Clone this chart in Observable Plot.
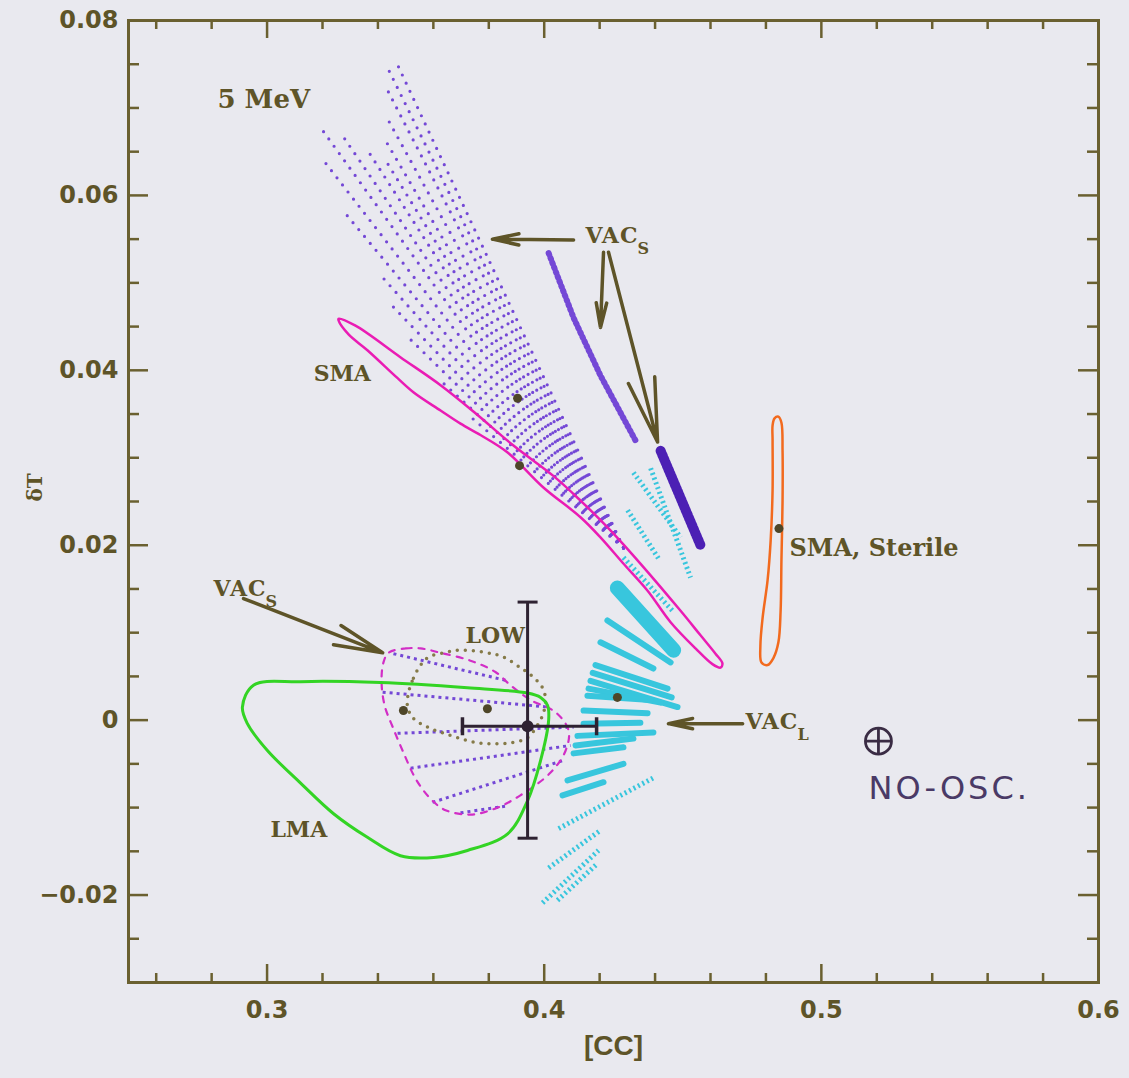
<!DOCTYPE html>
<html>
<head>
<meta charset="utf-8">
<script src="https://cdn.jsdelivr.net/npm/d3@7"></script>
<script src="https://cdn.jsdelivr.net/npm/@observablehq/plot@0.6"></script>
<style>
  html, body { margin: 0; padding: 0; background: #e9e9ef; }
  #chart svg { display: block; }
  .vac text { letter-spacing: 1px; }
  .hand text { letter-spacing: 3px; }
</style>
</head>
<body>
<div id="chart"></div>
<script>
// ---- axis ticks ([CC] horizontally, δT vertically) ----
const xLabelTicks = [0.3, 0.4, 0.5, 0.6];
const xMajorTicks = [0.3, 0.4, 0.5];
const xMinorTicks = [0.26, 0.28, 0.32, 0.34, 0.36, 0.38, 0.42, 0.44, 0.46, 0.48, 0.52, 0.54, 0.56, 0.58];
const yLabelTicks = [-0.02, 0, 0.02, 0.04, 0.06, 0.08];
const yMajorTicks = [-0.02, 0, 0.02, 0.04, 0.06];
const yMinorTicks = [-0.025, -0.015, -0.01, -0.005, 0.005, 0.01, 0.015, 0.025, 0.03, 0.035,
                     0.045, 0.05, 0.055, 0.065, 0.07, 0.075];

// ---- VAC_S grid (upper): rays of points converging on one corner ----
const vacSApex = [0.4286, 0.0197];
const vacSRayEnds = [
  [0.3741, 0.0345], [0.3623, 0.0389], [0.3515, 0.0436], [0.3454, 0.0473],
  [0.3412, 0.0508], [0.3273, 0.0583], [0.3194, 0.0644], [0.3199, 0.0675],
  [0.3271, 0.0669], [0.3370, 0.0648], [0.3428, 0.0640], [0.3427, 0.0663],
  [0.3427, 0.0692], [0.3427, 0.0725], [0.3427, 0.0751], [0.3461, 0.0756]
];
// two narrow VAC_S streaks to the right of the grid
const vacSStreakA = [[0.4016, 0.0534], [0.4106, 0.0460], [0.4203, 0.0394], [0.4329, 0.0320]];
const vacSStreakB = [[0.4420, 0.0308], [0.4564, 0.0200]];

// ---- VAC_L bands: [cc1, dT1, cc2, dT2] ----
const vacLWide = [[0.4264, 0.0151, 0.4467, 0.0080]];
const vacLSolid = [
  [0.4228, 0.0114, 0.4456, 0.0066],
  [0.4203, 0.0089, 0.4394, 0.0059],
  [0.4185, 0.0063, 0.4445, 0.0036],
  [0.4175, 0.0054, 0.4460, 0.0026],
  [0.4167, 0.0045, 0.4481, 0.0015],
  [0.4160, 0.0036, 0.4420, 0.0020],
  [0.4156, 0.0028, 0.4384, 0.0023],
  [0.4142, 0.0011, 0.4373, 0.0008],
  [0.4142, -0.0004, 0.4347, -0.0003],
  [0.4120, -0.0018, 0.4394, -0.0014],
  [0.4113, -0.0029, 0.4322, -0.0021],
  [0.4106, -0.0038, 0.4286, -0.0031],
  [0.4084, -0.0069, 0.4286, -0.0050],
  [0.4066, -0.0086, 0.4214, -0.0071]
];
const vacLDotted = [
  [0.4322, 0.0283, 0.4492, 0.0209],
  [0.4384, 0.0288, 0.4528, 0.0163],
  [0.4301, 0.0240, 0.4412, 0.0185],
  [0.4286, 0.0186, 0.4463, 0.0125],
  [0.4052, -0.0124, 0.4394, -0.0066],
  [0.4016, -0.0169, 0.4203, -0.0126],
  [0.3994, -0.0209, 0.4196, -0.0149],
  [0.4048, -0.0206, 0.4192, -0.0164]
];

// ---- closed contours ----
const smaContour = [
  [0.3258, 0.0459], [0.3319, 0.0451], [0.3481, 0.0415], [0.3626, 0.0383], [0.3752, 0.0351],
  [0.3889, 0.0314], [0.4034, 0.0279], [0.4131, 0.0251], [0.4239, 0.0217], [0.4347, 0.0179],
  [0.4492, 0.0125], [0.4564, 0.0097], [0.4618, 0.0076], [0.4643, 0.0065], [0.4636, 0.0060],
  [0.4607, 0.0064], [0.4546, 0.0082], [0.4456, 0.0112], [0.4373, 0.0148], [0.4283, 0.0180],
  [0.4203, 0.0209], [0.4131, 0.0232], [0.3997, 0.0266], [0.3868, 0.0306], [0.3770, 0.0326],
  [0.3698, 0.0339], [0.3626, 0.0354], [0.3528, 0.0375], [0.3471, 0.0391], [0.3362, 0.0423],
  [0.3294, 0.0441], [0.3258, 0.0457]
];
const lmaContour = [
  [0.2911, 0.0015], [0.2951, 0.0040], [0.3121, 0.0044], [0.3409, 0.0043], [0.3723, 0.0037],
  [0.3940, 0.0031], [0.3987, 0.0026], [0.4012, 0.0017], [0.4016, 0.0000], [0.3987, -0.0046],
  [0.3940, -0.0092], [0.3868, -0.0130], [0.3723, -0.0149], [0.3601, -0.0157], [0.3481, -0.0155],
  [0.3362, -0.0134], [0.3240, -0.0107], [0.3121, -0.0072], [0.3002, -0.0035], [0.2929, -0.0004]
];
const sterileContour = [
  [0.4831, 0.0345], [0.4845, 0.0347], [0.4856, 0.0340], [0.4860, 0.0308], [0.4860, 0.0251],
  [0.4856, 0.0183], [0.4853, 0.0125], [0.4845, 0.0089], [0.4827, 0.0071], [0.4806, 0.0063],
  [0.4784, 0.0066], [0.4780, 0.0085], [0.4788, 0.0117], [0.4806, 0.0160], [0.4817, 0.0205],
  [0.4824, 0.0263], [0.4824, 0.0320], [0.4824, 0.0337]
];
const lowContour = [
  [0.3510, 0.0031], [0.3528, 0.0048], [0.3554, 0.0063], [0.3582, 0.0072], [0.3637, 0.0077],
  [0.3698, 0.0080], [0.3795, 0.0077], [0.3853, 0.0072], [0.3914, 0.0060], [0.3961, 0.0049],
  [0.3994, 0.0037], [0.4005, 0.0023], [0.3997, 0.0008], [0.3979, -0.0004], [0.3940, -0.0020],
  [0.3878, -0.0026], [0.3817, -0.0027], [0.3759, -0.0026], [0.3698, -0.0021], [0.3637, -0.0015],
  [0.3579, -0.0008], [0.3528, 0.0002], [0.3507, 0.0015]
];
// VAC_S (lower) region: dashed outline and its inner lines
const vacSLowOutline = [
  [0.3438, 0.0077], [0.3500, 0.0082], [0.3554, 0.0082], [0.3626, 0.0077], [0.3734, 0.0068],
  [0.3824, 0.0055], [0.3878, 0.0040], [0.3951, 0.0023], [0.4041, 0.0009], [0.4088, -0.0012],
  [0.4077, -0.0035], [0.4023, -0.0060], [0.3914, -0.0086], [0.3824, -0.0101], [0.3734, -0.0108],
  [0.3644, -0.0103], [0.3590, -0.0090], [0.3536, -0.0067], [0.3492, -0.0037], [0.3456, -0.0010],
  [0.3424, 0.0017], [0.3413, 0.0045], [0.3420, 0.0066]
];
const vacSLowLines = [
  [0.3456, 0.0076, 0.3868, 0.0045],
  [0.3417, 0.0032, 0.4012, 0.0015],
  [0.3471, -0.0015, 0.4106, -0.0008],
  [0.3518, -0.0055, 0.4095, -0.0029],
  [0.3597, -0.0094, 0.4070, -0.0046],
  [0.3698, -0.0106, 0.3868, -0.0098]
];

// ---- best-fit points, measurement and no-oscillation point ----
const bestFits = [
  {cc: 0.3904, dT: 0.0368},   // VAC_S
  {cc: 0.3911, dT: 0.0291},   // SMA
  {cc: 0.4847, dT: 0.0219},   // SMA, sterile
  {cc: 0.4264, dT: 0.0026},   // VAC_L
  {cc: 0.3795, dT: 0.0013},   // LOW
  {cc: 0.3492, dT: 0.0011}    // VAC_S (lower)
];
const measurement = [{cc: 0.394, dT: -0.0007, ccLo: 0.3705, ccHi: 0.4189, dTLo: -0.0135, dTHi: 0.0135}];
const noOsc = [{cc: 0.5206, dT: -0.0024}];

// ---- annotation arrows: [cc1, dT1, cc2, dT2] (tail -> head) ----
const arrows = [
  [0.4106, 0.0549, 0.3813, 0.0550],
  [0.4214, 0.0535, 0.4203, 0.0449],
  [0.4232, 0.0535, 0.4409, 0.0318],
  [0.2915, 0.0139, 0.3417, 0.0077],
  [0.4716, -0.0004, 0.4448, -0.0004]
];

// ---- text labels ----
const regionLabels = [
  {cc: 0.3168, dT: 0.0396, text: "SMA"},
  {cc: 0.3716, dT: 0.0096, text: "LOW"},
  {cc: 0.3012, dT: -0.0126, text: "LMA"}
];
const vacLabels = [
  {cc: 0.4149, dT: 0.0554, sub: "S"},
  {cc: 0.2807, dT: 0.0150, sub: "S"},
  {cc: 0.4726, dT: -0.0002, sub: "L"}
];
const sterileLabel = [{cc: 0.4885, dT: 0.0196, text: "SMA, Sterile"}];
const energyLabel = [{cc: 0.2821, dT: 0.0709, text: "5 MeV"}];
const noOscLabel = [{cc: 0.5170, dT: -0.0079, text: "NO-OSC."}];

// ---- colours ----
const INK = "#5e5428";
const FRAME = "#6a6030";
const PURPLE = "#7448d6";
const DEEP_PURPLE = "#4c20b4";
const CYAN = "#38c6dd";
const PINK = "#ea1cb4";
const GREEN = "#33d424";
const ORANGE = "#f26a1e";
const OLIVE_DOT = "#857a48";
const DASH_PINK = "#d22ec6";
const BAR = "#2e2232";
const FIT = "#4e4628";

// custom stroked symbols for error-bar caps and the ⊕ cross
const capH = {draw(ctx, size) { const r = Math.sqrt(size / Math.PI); ctx.moveTo(-r, 0); ctx.lineTo(r, 0); }};
const capV = {draw(ctx, size) { const r = Math.sqrt(size / Math.PI); ctx.moveTo(0, -r); ctx.lineTo(0, r); }};
const cross = {draw(ctx, size) {
  const r = Math.sqrt(size / Math.PI);
  ctx.moveTo(-r, 0); ctx.lineTo(r, 0); ctx.moveTo(0, -r); ctx.lineTo(0, r);
}};

const FH = 1078 - 20 - 96;   // frame height
const FW = 1129 - 128 - 31;  // frame width
const seg = {x1: d => d[0], y1: d => d[1], x2: d => d[2], y2: d => d[3]};
const pt = {x: d => d[0], y: d => d[1]};
const serif = {fontFamily: "DejaVu Serif", fontWeight: "bold", fill: INK, textAnchor: "start"};

const chart = Plot.plot({
  width: 1129,
  height: 1078,
  marginLeft: 128,
  marginRight: 31,
  marginTop: 20,
  marginBottom: 96,
  x: {domain: [0.25, 0.6]},
  y: {domain: [-0.03, 0.08]},
  style: {background: "transparent", color: INK, fontFamily: "DejaVu Sans"},
  marks: [
    // VAC_L bands
    Plot.link(vacLWide, {...seg, stroke: CYAN, strokeWidth: 15, strokeLinecap: "round"}),
    Plot.link(vacLSolid, {...seg, stroke: CYAN, strokeWidth: 6, strokeLinecap: "round"}),
    Plot.link(vacLDotted, {...seg, stroke: CYAN, strokeWidth: 5, strokeDasharray: "2,3"}),

    // VAC_S upper grid
    Plot.link(vacSRayEnds, {
      x1: () => vacSApex[0], y1: () => vacSApex[1], x2: d => d[0], y2: d => d[1],
      stroke: PURPLE, strokeWidth: 3.2, strokeDasharray: "0,9", strokeLinecap: "round"
    }),
    Plot.line(vacSStreakA, {...pt, stroke: PURPLE, strokeWidth: 6, strokeDasharray: "1.5,3.5"}),
    Plot.line(vacSStreakB, {...pt, stroke: DEEP_PURPLE, strokeWidth: 10, strokeDasharray: "2,2"}),

    // VAC_S lower region
    Plot.link(vacSLowLines, {...seg, stroke: PURPLE, strokeWidth: 3, strokeDasharray: "3,4"}),
    Plot.line(vacSLowOutline, {...pt, curve: "catmull-rom-closed", stroke: DASH_PINK, strokeWidth: 2.2, strokeDasharray: "6,7"}),

    // LOW, LMA, SMA and sterile contours
    Plot.line(lowContour, {...pt, curve: "catmull-rom-closed", stroke: OLIVE_DOT, strokeWidth: 3.5, strokeDasharray: "0,8", strokeLinecap: "round"}),
    Plot.line(smaContour, {...pt, curve: "catmull-rom-closed", stroke: PINK, strokeWidth: 2.5}),
    Plot.line(lmaContour, {...pt, curve: "catmull-rom-closed", stroke: GREEN, strokeWidth: 3}),
    Plot.line(sterileContour, {...pt, curve: "catmull-rom-closed", stroke: ORANGE, strokeWidth: 2.5}),

    // best-fit points
    Plot.dot(bestFits, {x: "cc", y: "dT", r: 4.5, fill: FIT}),

    // measurement with error bars
    Plot.link(measurement, {x1: "ccLo", x2: "ccHi", y1: "dT", y2: "dT", stroke: BAR, strokeWidth: 3}),
    Plot.link(measurement, {x1: "cc", x2: "cc", y1: "dTLo", y2: "dTHi", stroke: BAR, strokeWidth: 3}),
    Plot.dot(measurement, {x: "cc", y: "dTHi", r: 10, symbol: capH, fill: "none", stroke: BAR, strokeWidth: 3}),
    Plot.dot(measurement, {x: "cc", y: "dTLo", r: 10, symbol: capH, fill: "none", stroke: BAR, strokeWidth: 3}),
    Plot.dot(measurement, {x: "ccLo", y: "dT", r: 9, symbol: capV, fill: "none", stroke: BAR, strokeWidth: 3.5}),
    Plot.dot(measurement, {x: "ccHi", y: "dT", r: 9, symbol: capV, fill: "none", stroke: BAR, strokeWidth: 3.5}),
    Plot.dot(measurement, {x: "cc", y: "dT", r: 6, fill: BAR}),

    // no-oscillation point
    Plot.dot(noOsc, {x: "cc", y: "dT", r: 13, fill: "none", stroke: "#3a2c44", strokeWidth: 2.8}),
    Plot.dot(noOsc, {x: "cc", y: "dT", r: 13, symbol: cross, fill: "none", stroke: "#3a2c44", strokeWidth: 2.8}),

    // annotation arrows
    Plot.arrow(arrows, {...seg, stroke: INK, strokeWidth: 3.5, headLength: 38, headAngle: 24}),

    // labels
    Plot.text(energyLabel, {x: "cc", y: "dT", text: "text", ...serif, fontSize: 26}),
    Plot.text(regionLabels, {x: "cc", y: "dT", text: "text", ...serif, fontSize: 22}),
    Plot.text(sterileLabel, {x: "cc", y: "dT", text: "text", ...serif, fontSize: 24}),
    Plot.text(vacLabels, {x: "cc", y: "dT", text: () => "VAC", ...serif, fontSize: 22, className: "vac"}),
    Plot.text(vacLabels, {x: "cc", y: "dT", text: "sub", ...serif, fontSize: 16, dx: 52, dy: 13}),
    Plot.text(noOscLabel, {x: "cc", y: "dT", text: "text", textAnchor: "start", fontFamily: "DejaVu Sans",
      fontWeight: "normal", fontSize: 32, fill: "#4a3a66", className: "hand"}),

    // frame with inward ticks on all four sides
    Plot.frame({stroke: FRAME, strokeWidth: 3}),
    Plot.tickX(xMajorTicks, {x: d => d, insetTop: FH - 18, stroke: FRAME, strokeWidth: 2.5}),
    Plot.tickX(xMinorTicks, {x: d => d, insetTop: FH - 9, stroke: FRAME, strokeWidth: 2.5}),
    Plot.tickX(xMajorTicks, {x: d => d, insetBottom: FH - 18, stroke: FRAME, strokeWidth: 2.5}),
    Plot.tickX(xMinorTicks, {x: d => d, insetBottom: FH - 9, stroke: FRAME, strokeWidth: 2.5}),
    Plot.tickY(yMajorTicks, {y: d => d, insetRight: FW - 20, stroke: FRAME, strokeWidth: 2.5}),
    Plot.tickY(yMinorTicks, {y: d => d, insetRight: FW - 11, stroke: FRAME, strokeWidth: 2.5}),
    Plot.tickY(yMajorTicks, {y: d => d, insetLeft: FW - 20, stroke: FRAME, strokeWidth: 2.5}),
    Plot.tickY(yMinorTicks, {y: d => d, insetLeft: FW - 11, stroke: FRAME, strokeWidth: 2.5}),

    // tick labels and axis titles
    Plot.axisX(xLabelTicks, {tickSize: 0, tickPadding: 18, tickFormat: d3.format(".1f"), fontSize: 24,
      fontWeight: "bold", fill: INK, label: null}),
    Plot.axisY(yLabelTicks, {tickSize: 0, tickPadding: 10, tickFormat: d => d === 0 ? "0" : d3.format(".2f")(d),
      fontSize: 24, fontWeight: "bold", fill: INK, label: null}),
    Plot.text(["[CC]"], {frameAnchor: "bottom", dy: 72, fontFamily: "Liberation Sans", fontWeight: "bold",
      fontSize: 28, fill: INK}),
    Plot.text(["δT"], {frameAnchor: "left", dx: -93, rotate: -90, fontFamily: "DejaVu Serif", fontWeight: "bold",
      fontSize: 20, fill: INK})
  ]
});

document.getElementById("chart").appendChild(chart);
</script>
</body>
</html>
